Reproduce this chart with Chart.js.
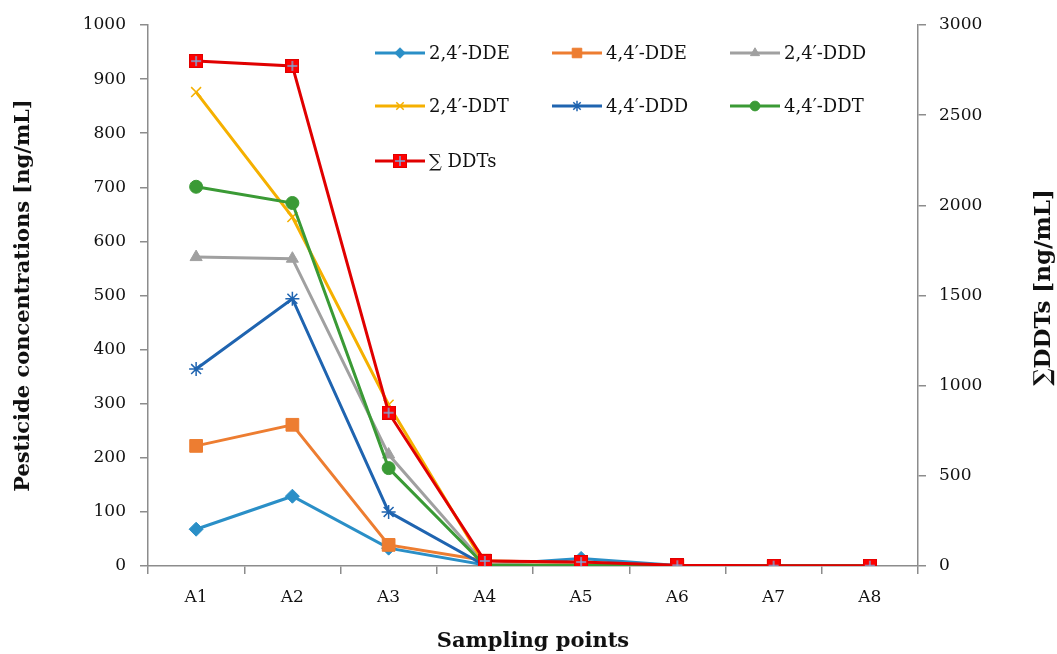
<!DOCTYPE html>
<html>
<head>
<meta charset="utf-8">
<script src="https://cdn.jsdelivr.net/npm/chart.js@4"></script>
<style>
  html, body { margin: 0; padding: 0; background: #fff; }
  #wrap { width: 1057px; height: 654px; }
</style>
</head>
<body>
<div id="wrap"><canvas id="chart" width="1057" height="654"></canvas></div>
<script>
// ---- Data ----
const samplingPoints = ["A1", "A2", "A3", "A4", "A5", "A6", "A7", "A8"];

const dde24 = [68, 129, 33, 2, 14, 1, 0, 0];
const dde44 = [222, 261, 39, 10, 5, 0.5, 0, 0];
const ddd24 = [571, 568, 206, 3, 2, 0.5, 0, 0];
const ddt24 = [876, 645, 298, 2, 1, 0.5, 0, 0];
const ddd44 = [364, 494, 100, 1, 1, 0.5, 0, 0];
const ddt44 = [701, 671, 181, 1, 1, 0.5, 0, 0];
const sumDDTs = [2800, 2773, 850, 28, 22, 4, 2, 2];

const leftTicks = [0, 100, 200, 300, 400, 500, 600, 700, 800, 900, 1000];
const rightTicks = [0, 500, 1000, 1500, 2000, 2500, 3000];

// ---- Styling ----
const SERIF = "'DejaVu Serif', 'Liberation Serif', serif";
const AXIS_GRAY = "#8c8c8c";
const TEXT = "#111";

// red square marker with a light-blue plus, like the Excel marker
function makeSumMarker(size) {
  const c = document.createElement("canvas");
  c.width = size; c.height = size;
  const g = c.getContext("2d");
  g.fillStyle = "#ff0000";
  g.fillRect(0, 0, size, size);
  g.strokeStyle = "#e00000";
  g.lineWidth = 1;
  g.strokeRect(0.5, 0.5, size - 1, size - 1);
  g.strokeStyle = "#7fa7d8";
  g.lineWidth = 1.5;
  g.beginPath();
  g.moveTo(size / 2, 2); g.lineTo(size / 2, size - 2);
  g.moveTo(2, size / 2); g.lineTo(size - 2, size / 2);
  g.stroke();
  return c;
}
const sumMarker = makeSumMarker(14);

function series(label, data, color, pointStyle, radius, axis, order) {
  return {
    label,
    data,
    yAxisID: axis,
    borderColor: color,
    backgroundColor: color,
    pointBackgroundColor: color,
    pointBorderColor: color,
    borderWidth: 3,
    pointStyle,
    pointRadius: radius,
    pointBorderWidth: pointStyle === "crossRot" || pointStyle === "star" ? 1.5 : 1,
    tension: 0,
    order,
  };
}

const datasets = [
  series("2,4\u2032-DDE", dde24, "#2a8fc7", "rectRot", 7, "y", 7),
  series("4,4\u2032-DDE", dde44, "#ed7d31", "rect", 9, "y", 6),
  series("2,4\u2032-DDD", ddd24, "#a0a0a0", "triangle", 7, "y", 5),
  series("2,4\u2032-DDT", ddt24, "#f5b000", "crossRot", 7, "y", 4),
  series("4,4\u2032-DDD", ddd44, "#1f64b0", "star", 7, "y", 3),
  series("4,4\u2032-DDT", ddt44, "#3a9a35", "circle", 6.5, "y", 2),
  series("\u2211 DDTs", sumDDTs, "#e00000", sumMarker, 8, "y2", 1),
];

// ---- Legend drawn inside the plot, 3 columns like the reference ----
const legendSlots = [
  [375, 53], [552, 53], [730, 53],
  [375, 106], [552, 106], [730, 106],
  [375, 161],
];

const insideLegend = {
  id: "insideLegend",
  afterDraw(chart) {
    const ctx = chart.ctx;
    ctx.save();
    chart.data.datasets.forEach((ds, i) => {
      const [x, y] = legendSlots[i];
      const lineLen = 50;
      ctx.strokeStyle = ds.borderColor;
      ctx.lineWidth = 3;
      ctx.beginPath();
      ctx.moveTo(x, y);
      ctx.lineTo(x + lineLen, y);
      ctx.stroke();
      if (typeof ds.pointStyle === "string") {
        ctx.fillStyle = ds.pointBackgroundColor;
        ctx.strokeStyle = ds.pointBorderColor;
        ctx.lineWidth = ds.pointBorderWidth;
        Chart.helpers.drawPoint(ctx, { pointStyle: ds.pointStyle, radius: ds.pointRadius * 0.75, borderWidth: ds.pointBorderWidth }, x + lineLen / 2, y);
      } else {
        const img = ds.pointStyle;
        ctx.drawImage(img, x + lineLen / 2 - img.width / 2, y - img.height / 2);
      }
      ctx.fillStyle = TEXT;
      ctx.font = "18px " + SERIF;
      ctx.textBaseline = "middle";
      ctx.textAlign = "left";
      ctx.fillText(ds.label, x + lineLen + 4, y + 1);
    });

    // right axis title reads bottom-to-top, like the left one
    const area = chart.chartArea;
    ctx.translate(1044, (area.top + area.bottom) / 2 - 8);
    ctx.rotate(-Math.PI / 2);
    ctx.font = "bold 23px " + SERIF;
    ctx.textAlign = "center";
    ctx.textBaseline = "middle";
    ctx.fillStyle = TEXT;
    ctx.fillText("\u2211DDTs [ng/mL]", 0, 0);
    ctx.restore();
  },
};

const tickFont = { family: SERIF, size: 17 };
const titleFont = { family: SERIF, size: 21, weight: "bold" };

new Chart(document.getElementById("chart"), {
  type: "line",
  data: { labels: samplingPoints, datasets },
  plugins: [insideLegend],
  options: {
    responsive: false,
    animation: false,
    layout: { padding: { top: 25, left: 0, right: 0, bottom: 0 } },
    plugins: {
      legend: { display: false },
      tooltip: { enabled: false },
    },
    scales: {
      x: {
        offset: true,
        grid: { offset: true, drawOnChartArea: false, drawTicks: true, tickLength: 8, color: AXIS_GRAY, lineWidth: 1.5 },
        border: { color: AXIS_GRAY, width: 1.5 },
        ticks: { color: TEXT, font: tickFont, padding: 13, maxRotation: 0 },
        title: {
          display: true,
          text: "Sampling points",
          color: TEXT,
          font: titleFont,
          padding: { top: 18, bottom: 0 },
        },
        afterFit(scale) { scale.height = 88; },
      },
      y: {
        position: "left",
        min: 0,
        max: 1000,
        afterBuildTicks(scale) { scale.ticks = leftTicks.map((v) => ({ value: v })); },
        grid: { drawOnChartArea: false, drawTicks: true, tickLength: 8, color: AXIS_GRAY, lineWidth: 1.5 },
        border: { color: AXIS_GRAY, width: 1.5 },
        ticks: { color: TEXT, font: tickFont, padding: 14, callback: (v) => String(v) },
        title: {
          display: true,
          text: "Pesticide concentrations [ng/mL]",
          color: TEXT,
          font: titleFont,
          padding: { top: 11, bottom: 0 },
        },
        afterFit(scale) { scale.width = 148; },
      },
      y2: {
        position: "right",
        min: 0,
        max: 3000,
        afterBuildTicks(scale) { scale.ticks = rightTicks.map((v) => ({ value: v })); },
        grid: { drawOnChartArea: false, drawTicks: true, tickLength: 8, color: AXIS_GRAY, lineWidth: 1.5 },
        border: { color: AXIS_GRAY, width: 1.5 },
        ticks: { color: TEXT, font: tickFont, padding: 13, callback: (v) => String(v) },
        afterFit(scale) { scale.width = 139; },
      },
    },
  },
});
</script>
</body>
</html>
